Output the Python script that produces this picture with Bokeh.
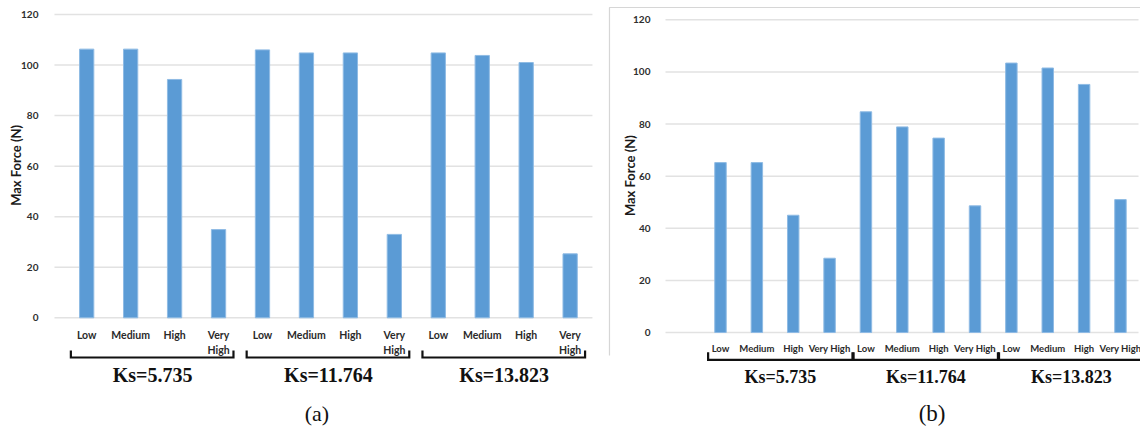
import math
from bokeh.plotting import figure
from bokeh.models import Range1d, FixedTicker, ColumnDataSource, Label
from bokeh.layouts import row
from bokeh.embed import file_html
from bokeh.resources import INLINE
from bokeh.core.properties import value

# ---------------- data ----------------
categories = ["Low", "Medium", "High", "Very High"]
groups = ["Ks=5.735", "Ks=11.764", "Ks=13.823"]
force_a = [106.3, 106.3, 94.3, 34.9, 106.0, 104.8, 104.8, 33.0, 104.8, 103.8, 101.0, 25.3]
force_b = [65.2, 65.2, 45.0, 28.5, 84.7, 78.9, 74.6, 48.6, 103.4, 101.5, 95.2, 51.0]
y_ticks = [0, 20, 40, 60, 80, 100, 120]
y_title = "Max Force (N)"
panel_labels = ["(a)", "(b)"]

BAR = "#5B9BD5"
SANS = "Lato"
SERIF = "Liberation Serif"


def make_panel(vals, panel_label, cfg):
    n_cat = len(categories)
    xs, cat_lab = [], []
    for gi, g in enumerate(groups):
        for ci, c in enumerate(categories):
            xs.append(gi * n_cat + ci)
            cat_lab.append(c.replace(" ", "\n") if cfg["wrap"] else c)

    p = figure(width=cfg["width"], height=430,
               x_range=Range1d(*cfg["xr"]), y_range=Range1d(*cfg["yr"]),
               output_backend="svg", toolbar_location=None,
               x_axis_location=None,
               min_border_left=0, min_border_right=0,
               min_border_top=0, min_border_bottom=0)
    p.outline_line_color = None
    p.xgrid.visible = False
    p.ygrid.visible = False

    # horizontal gridlines spanning the plot area only
    g0, g1 = cfg["grid_x"]
    p.segment(x0=[g0] * len(y_ticks), x1=[g1] * len(y_ticks),
              y0=y_ticks, y1=y_ticks, line_color="#e2e2e2", line_width=1.5)

    ax = p.yaxis[0]
    ax.fixed_location = g0
    ax.ticker = FixedTicker(ticks=y_ticks)
    ax.axis_line_color = None
    ax.major_tick_line_color = None
    ax.minor_tick_line_color = None
    ax.major_label_standoff = cfg["standoff"]
    ax.major_label_text_font = SANS
    ax.major_label_text_font_style = "bold"
    ax.major_label_text_font_size = "10px"
    ax.major_label_text_color = "#2e2e2e"

    if cfg.get("box"):
        l, r, t, b = cfg["box"]
        p.line(x=[l, l, r], y=[b, t, t], line_color="#d6d6d6", line_width=1.2)

    src = ColumnDataSource(dict(x=xs, force=vals, lab=cat_lab))
    p.vbar(x="x", top="force", bottom=0, width=cfg["bw"], source=src,
           fill_color=BAR, line_color="#8fbbe4", line_width=1)

    # category labels
    p.text(x="x", y=cfg["cat_y"], text="lab", source=src,
           text_font=value(SANS), text_font_style="bold",
           text_font_size=cfg["cat_fs"], text_color="#2a2a2a",
           text_align="center", text_baseline=cfg["cat_base"],
           text_line_height=1.3)

    # group braces and labels
    bx, by, gx = [], [], []
    for gi, g in enumerate(groups):
        s = gi * n_cat + cfg["br_s"]
        e = gi * n_cat + cfg["br_e"]
        bx.append([s, s, e, e])
        by.append([cfg["br_t"], cfg["br_b"], cfg["br_b"], cfg["br_t"]])
        gx.append(gi * n_cat + (n_cat - 1) / 2 + cfg["g_dx"])
    p.multi_line(xs=bx, ys=by, line_color="#111111", line_width=2.2,
                 line_join="miter")
    gsrc = ColumnDataSource(dict(x=gx, lab=groups))
    p.text(x="x", y=cfg["g_y"], text="lab", source=gsrc,
           text_font=value(SERIF), text_font_style="bold",
           text_font_size=cfg["g_fs"], text_color="#111111",
           text_align="center", text_baseline="middle")

    # y-axis title
    p.add_layout(Label(x=cfg["t_x"], y=cfg["t_y"], text=y_title, angle=math.pi / 2,
                       text_font=SANS, text_font_style="bold",
                       text_font_size="13px", text_color="#1a1a1a",
                       text_align="center", text_baseline="middle"))
    # panel caption
    p.add_layout(Label(x=cfg["pl_x"], y=cfg["pl_y"], text=panel_label,
                       text_font=SERIF, text_font_size=cfg["pl_fs"],
                       text_color="#111111", text_align="center",
                       text_baseline="middle"))
    return p


cfg_a = dict(width=600, standoff=10,
             xr=(-1.961, 11.691), yr=(-44.59, 125.54), bw=0.325,
             grid_x=(-0.733, 11.508),
             wrap=True, cat_y=-4.35, cat_fs="10.5px", cat_base="top",
             br_s=-0.36, br_e=3.34, br_t=-12.9, br_b=-15.7,
             g_y=-22.8, g_fs="20px", g_dx=0.0,
             t_x=-1.597, t_y=60.3, pl_x=5.24, pl_y=-37.9, pl_fs="22px")
cfg_b = dict(width=540, standoff=9,
             xr=(-3.300, 11.551), yr=(-37.61, 127.41), bw=0.315,
             grid_x=(-1.513, 11.496),
             wrap=False, cat_y=-6.0, cat_fs="9.5px", cat_base="middle",
             br_s=-0.34, br_e=3.63, br_t=-7.55, br_b=-10.47,
             g_y=-17.25, g_fs="18px", g_dx=0.15,
             t_x=-2.475, t_y=60.2, pl_x=5.82, pl_y=-31.2, pl_fs="23px",
             box=(-3.053, 11.8, 124.72, -8.83))

p1 = make_panel(force_a, panel_labels[0], cfg_a)
p2 = make_panel(force_b, panel_labels[1], cfg_b)
layout = row(p1, p2, spacing=0)

open("out.html", "w").write(file_html(layout, INLINE))
